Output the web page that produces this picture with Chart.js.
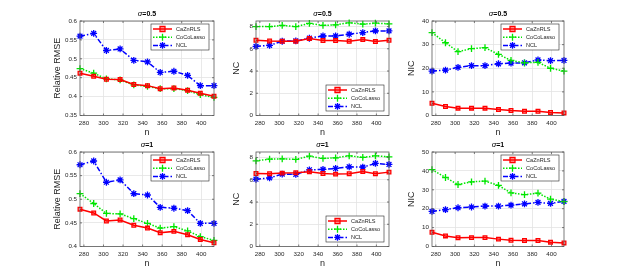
<!DOCTYPE html>
<html>
<head>
<meta charset="utf-8">
<script src="https://cdn.jsdelivr.net/npm/chart.js@4.4.1/dist/chart.umd.min.js"></script>
<style>
  body { margin: 0; background: #fff; width: 623px; height: 277px; position: relative; overflow: hidden; }
  canvas { position: absolute; }
</style>
</head>
<body>
<canvas id="p1"></canvas>
<canvas id="p2"></canvas>
<canvas id="p3"></canvas>
<canvas id="p4"></canvas>
<canvas id="p5"></canvas>
<canvas id="p6"></canvas>
<script>
// --- Data ---
const N_VALUES = [276, 290, 303, 317, 331, 345, 358, 372, 386, 399, 413];
const X_TICKS = [280, 300, 320, 340, 360, 380, 400];
const SERIES_NAMES = ['CaZnRLS', 'CoCoLasso', 'NCL'];

// sigma = 0.5
const RMSE_05_CAZNRLS = [0.462, 0.454, 0.446, 0.445, 0.432, 0.429, 0.421, 0.423, 0.417, 0.409, 0.401];
const RMSE_05_COCOLASSO = [0.474, 0.462, 0.447, 0.444, 0.431, 0.427, 0.421, 0.421, 0.416, 0.405, 0.398];
const RMSE_05_NCL = [0.560, 0.567, 0.522, 0.526, 0.496, 0.492, 0.464, 0.467, 0.456, 0.429, 0.429];
const NC_05_CAZNRLS = [6.77, 6.70, 6.68, 6.68, 6.92, 6.74, 6.74, 6.68, 6.83, 6.65, 6.77];
const NC_05_COCOLASSO = [8.00, 8.00, 8.10, 8.00, 8.28, 8.10, 8.16, 8.34, 8.22, 8.30, 8.25];
const NC_05_NCL = [6.22, 6.31, 6.68, 6.71, 6.95, 7.16, 7.16, 7.31, 7.46, 7.61, 7.61];
const NIC_05_CAZNRLS = [5.2, 3.8, 3.1, 3.1, 3.1, 2.5, 2.1, 1.8, 1.8, 1.3, 1.1];
const NIC_05_COCOLASSO = [35.1, 30.8, 27.0, 28.3, 28.7, 25.9, 23.3, 22.3, 22.5, 20.0, 18.8];
const NIC_05_NCL = [18.8, 19.2, 20.4, 21.1, 21.1, 21.9, 22.2, 22.3, 23.5, 23.2, 23.3];

// sigma = 1
const RMSE_1_CAZNRLS = [0.479, 0.471, 0.454, 0.456, 0.445, 0.439, 0.429, 0.432, 0.425, 0.415, 0.408];
const RMSE_1_COCOLASSO = [0.512, 0.491, 0.470, 0.469, 0.459, 0.449, 0.439, 0.442, 0.433, 0.421, 0.413];
const RMSE_1_NCL = [0.573, 0.581, 0.536, 0.541, 0.512, 0.509, 0.483, 0.481, 0.476, 0.449, 0.449];
const NC_1_CAZNRLS = [6.57, 6.54, 6.60, 6.63, 6.72, 6.57, 6.51, 6.54, 6.75, 6.54, 6.69];
const NC_1_COCOLASSO = [7.71, 7.86, 7.89, 7.83, 8.13, 7.92, 7.98, 8.16, 8.01, 8.16, 8.07];
const NC_1_NCL = [6.05, 6.17, 6.51, 6.48, 6.90, 6.93, 7.02, 7.17, 7.14, 7.47, 7.38];
const NIC_1_CAZNRLS = [7.5, 5.6, 4.6, 4.7, 4.7, 3.9, 3.3, 3.2, 3.2, 2.3, 1.9];
const NIC_1_COCOLASSO = [40.7, 36.5, 32.8, 34.2, 34.6, 32.3, 28.4, 27.4, 28.2, 25.1, 23.7];
const NIC_1_NCL = [18.6, 19.5, 20.5, 20.9, 21.4, 21.4, 21.9, 22.6, 23.3, 22.8, 23.9];

// y tick labels
const RMSE_05_TICKS = [0.35, 0.4, 0.45, 0.5, 0.55, 0.6];
const RMSE_1_TICKS = [0.4, 0.45, 0.5, 0.55, 0.6];
const NC_TICKS = [0, 2, 4, 6, 8];
const NIC_05_TICKS = [0, 10, 20, 30, 40];
const NIC_1_TICKS = [0, 10, 20, 30, 40, 50];

// --- Styles ---
const FONT = "'Liberation Sans', Arial, sans-serif";
const TEXT_COLOR = '#262626';
const SERIES_STYLE = [
    { color: '#ff0000', dash: [], marker: 'rect', fill: 'rgba(255,0,0,0.3)' },
    { color: '#00e600', dash: [1.5, 1.5], marker: 'cross', fill: '#00e600' },
    { color: '#0000ff', dash: [5, 2, 1.5, 2], marker: 'star', fill: '#0000ff' }
];

// --- Drawing helpers ---
function drawMarker(ctx, type, x, y, color, fill) {
    ctx.save();
    ctx.setLineDash([]);
    ctx.strokeStyle = color;
    ctx.lineWidth = 1.3;
    ctx.beginPath();
    if (type === 'rect') {
        ctx.fillStyle = fill;
        ctx.rect(x - 2.5, y - 2.5, 5, 5);
        ctx.fill();
        ctx.stroke();
    } else if (type === 'cross') {
        ctx.moveTo(x - 3.5, y); ctx.lineTo(x + 3.5, y);
        ctx.moveTo(x, y - 3.5); ctx.lineTo(x, y + 3.5);
        ctx.stroke();
    } else {
        const r = 3.3, d = r * 0.72;
        ctx.moveTo(x - r, y); ctx.lineTo(x + r, y);
        ctx.moveTo(x, y - r); ctx.lineTo(x, y + r);
        ctx.moveTo(x - d, y - d); ctx.lineTo(x + d, y + d);
        ctx.moveTo(x - d, y + d); ctx.lineTo(x + d, y - d);
        ctx.stroke();
    }
    ctx.restore();
}

// axes box, inner ticks, legend and title, MATLAB style
const decorPlugin = {
    id: 'decor',
    beforeDatasetsDraw(chart) {
        const { ctx, chartArea: a } = chart;
        ctx.save();
        ctx.fillStyle = 'rgba(0,0,0,0)';
        ctx.restore();
    },
    afterDraw(chart) {
        const { ctx, chartArea: a, scales } = chart;
        const opts = chart.options.plugins.decor;
        ctx.save();
        // box
        ctx.strokeStyle = '#5a5a5a';
        ctx.lineWidth = 0.8;
        ctx.strokeRect(a.left, a.top, a.right - a.left, a.bottom - a.top);
        // inner tick marks
        ctx.beginPath();
        X_TICKS.forEach(v => {
            const x = scales.x.getPixelForValue(v);
            ctx.moveTo(x, a.bottom); ctx.lineTo(x, a.bottom - 2);
            ctx.moveTo(x, a.top); ctx.lineTo(x, a.top + 2);
        });
        opts.yTicks.forEach(v => {
            const y = scales.y.getPixelForValue(v);
            ctx.moveTo(a.left, y); ctx.lineTo(a.left + 2, y);
            ctx.moveTo(a.right, y); ctx.lineTo(a.right - 2, y);
        });
        ctx.stroke();

        // legend
        const w = 58, h = 26;
        const lx = a.right - 5 - w;
        const ly = opts.legendBottom ? a.bottom - 4.5 - h : a.top + 3;
        ctx.fillStyle = '#fff';
        ctx.fillRect(lx, ly, w, h);
        ctx.strokeStyle = '#262626';
        ctx.lineWidth = 0.6;
        ctx.strokeRect(lx, ly, w, h);
        ctx.font = `5.6px ${FONT}`;
        ctx.textBaseline = 'middle';
        ctx.textAlign = 'left';
        SERIES_NAMES.forEach((name, i) => {
            const s = SERIES_STYLE[i];
            const y = ly + 5 + i * 8.2;
            ctx.strokeStyle = s.color;
            ctx.lineWidth = 1.5;
            ctx.setLineDash(s.dash);
            ctx.beginPath();
            ctx.moveTo(lx + 2, y); ctx.lineTo(lx + 21, y);
            ctx.stroke();
            drawMarker(ctx, s.marker, lx + 11.5, y, s.color, s.fill);
            ctx.fillStyle = TEXT_COLOR;
            ctx.fillText(name, lx + 25, y + 0.3);
        });
        ctx.setLineDash([]);

        // title: italic sigma + bold value
        const cx = (a.left + a.right) / 2;
        const ty = a.top - 5;
        const sig = '\u03c3';
        const rest = '=' + opts.sigma;
        ctx.font = `italic 7.5px ${FONT}`;
        const w1 = ctx.measureText(sig).width;
        ctx.font = `bold 7px ${FONT}`;
        const w2 = ctx.measureText(rest).width;
        const x0 = cx - (w1 + w2) / 2;
        ctx.fillStyle = '#000';
        ctx.textBaseline = 'alphabetic';
        ctx.font = `italic 7.5px ${FONT}`;
        ctx.fillText(sig, x0, ty);
        ctx.font = `bold 7px ${FONT}`;
        ctx.fillText(rest, x0 + w1, ty);
        ctx.restore();
    }
};

function makePanel(id, box, plot, cfg) {
    const canvas = document.getElementById(id);
    canvas.width = box.width;
    canvas.height = box.height;
    canvas.style.left = box.left + 'px';
    canvas.style.top = box.top + 'px';

    const datasets = cfg.series.map((vals, i) => {
        const s = SERIES_STYLE[i];
        return {
            label: SERIES_NAMES[i],
            data: N_VALUES.map((n, k) => ({ x: n, y: vals[k] })),
            borderColor: s.color,
            backgroundColor: s.fill,
            borderWidth: 1.5,
            borderDash: s.dash,
            pointStyle: s.marker === 'rect' ? 'rect' : (s.marker === 'cross' ? 'cross' : 'star'),
            pointRadius: s.marker === 'rect' ? 2.6 : 3.4,
            pointBorderWidth: 1.3,
            pointBorderColor: s.color,
            pointBackgroundColor: s.fill,
            tension: 0,
            clip: false
        };
    });

    return new Chart(canvas.getContext('2d'), {
        type: 'line',
        data: { datasets },
        options: {
            responsive: false,
            animation: false,
            layout: {
                padding: {
                    left: 0,
                    top: plot.top - box.top,
                    right: box.left + box.width - plot.right,
                    bottom: 0
                }
            },
            plugins: {
                legend: { display: false },
                tooltip: { enabled: false },
                decor: { yTicks: cfg.yTicks, sigma: cfg.sigma, legendBottom: cfg.legendBottom }
            },
            scales: {
                x: {
                    type: 'linear',
                    min: N_VALUES[0],
                    max: N_VALUES[N_VALUES.length - 1],
                    afterBuildTicks: s => { s.ticks = X_TICKS.map(v => ({ value: v })); },
                    afterFit: s => { s.height = box.top + box.height - plot.bottom; },
                    grid: { color: '#e3e3e3', lineWidth: 0.8, drawTicks: false },
                    border: { display: false },
                    ticks: { font: { family: FONT, size: 6.2 }, color: TEXT_COLOR, padding: 4, maxRotation: 0, autoSkip: false },
                    title: { display: true, text: 'n', color: TEXT_COLOR, font: { family: FONT, size: 9 }, padding: { top: 0, bottom: cfg.xTitlePad } }
                },
                y: {
                    type: 'linear',
                    min: cfg.yMin,
                    max: cfg.yMax,
                    afterBuildTicks: s => { s.ticks = cfg.yTicks.map(v => ({ value: v })); },
                    afterFit: s => { s.width = plot.left - box.left; },
                    grid: { color: '#e3e3e3', lineWidth: 0.8, drawTicks: false },
                    border: { display: false },
                    ticks: {
                        font: { family: FONT, size: 6.2 }, color: TEXT_COLOR, padding: 3,
                        callback: v => String(+Number(v).toFixed(2))
                    },
                    title: { display: true, text: cfg.yTitle, color: TEXT_COLOR, font: { family: FONT, size: 9 }, padding: { top: cfg.yTitlePad, bottom: 0 } }
                }
            }
        },
        plugins: [decorPlugin]
    });
}

// --- Layout ---
const COLS = [
    { left: 0, width: 220, plotLeft: 80, plotRight: 214, titleX: 58 },
    { left: 220, width: 176, plotLeft: 256, plotRight: 389, titleX: 237 },
    { left: 396, width: 227, plotLeft: 432, plotRight: 564, titleX: 412 }
];
const ROWS = [
    { top: 0, height: 145, plotTop: 21, plotBottom: 115.5, nY: 133 },
    { top: 132, height: 145, plotTop: 152, plotBottom: 246.5, nY: 263.3 }
];

const PANELS = [
    { id: 'p1', r: 0, c: 0, sigma: '0.5', yTitle: 'Relative RMSE', yMin: 0.35, yMax: 0.6, yTicks: RMSE_05_TICKS, series: [RMSE_05_CAZNRLS, RMSE_05_COCOLASSO, RMSE_05_NCL] },
    { id: 'p2', r: 0, c: 1, sigma: '0.5', yTitle: 'NC', yMin: 0, yMax: 8.5, yTicks: NC_TICKS, series: [NC_05_CAZNRLS, NC_05_COCOLASSO, NC_05_NCL], legendBottom: true },
    { id: 'p3', r: 0, c: 2, sigma: '0.5', yTitle: 'NIC', yMin: 0, yMax: 40, yTicks: NIC_05_TICKS, series: [NIC_05_CAZNRLS, NIC_05_COCOLASSO, NIC_05_NCL] },
    { id: 'p4', r: 1, c: 0, sigma: '1', yTitle: 'Relative RMSE', yMin: 0.4, yMax: 0.6, yTicks: RMSE_1_TICKS, series: [RMSE_1_CAZNRLS, RMSE_1_COCOLASSO, RMSE_1_NCL] },
    { id: 'p5', r: 1, c: 1, sigma: '1', yTitle: 'NC', yMin: 0, yMax: 8.5, yTicks: NC_TICKS, series: [NC_1_CAZNRLS, NC_1_COCOLASSO, NC_1_NCL], legendBottom: true },
    { id: 'p6', r: 1, c: 2, sigma: '1', yTitle: 'NIC', yMin: 0, yMax: 50, yTicks: NIC_1_TICKS, series: [NIC_1_CAZNRLS, NIC_1_COCOLASSO, NIC_1_NCL] }
];

PANELS.forEach(p => {
    const col = COLS[p.c], row = ROWS[p.r];
    const box = { left: col.left, top: row.top, width: col.width, height: row.height };
    const plot = { left: col.plotLeft, right: col.plotRight, top: row.plotTop, bottom: row.plotBottom };
    const half = 9 * 1.2 / 2;
    makePanel(p.id, box, plot, {
        ...p,
        yTitlePad: col.titleX - col.left - half,
        xTitlePad: row.top + row.height - row.nY - half
    });
});
</script>
</body>
</html>
